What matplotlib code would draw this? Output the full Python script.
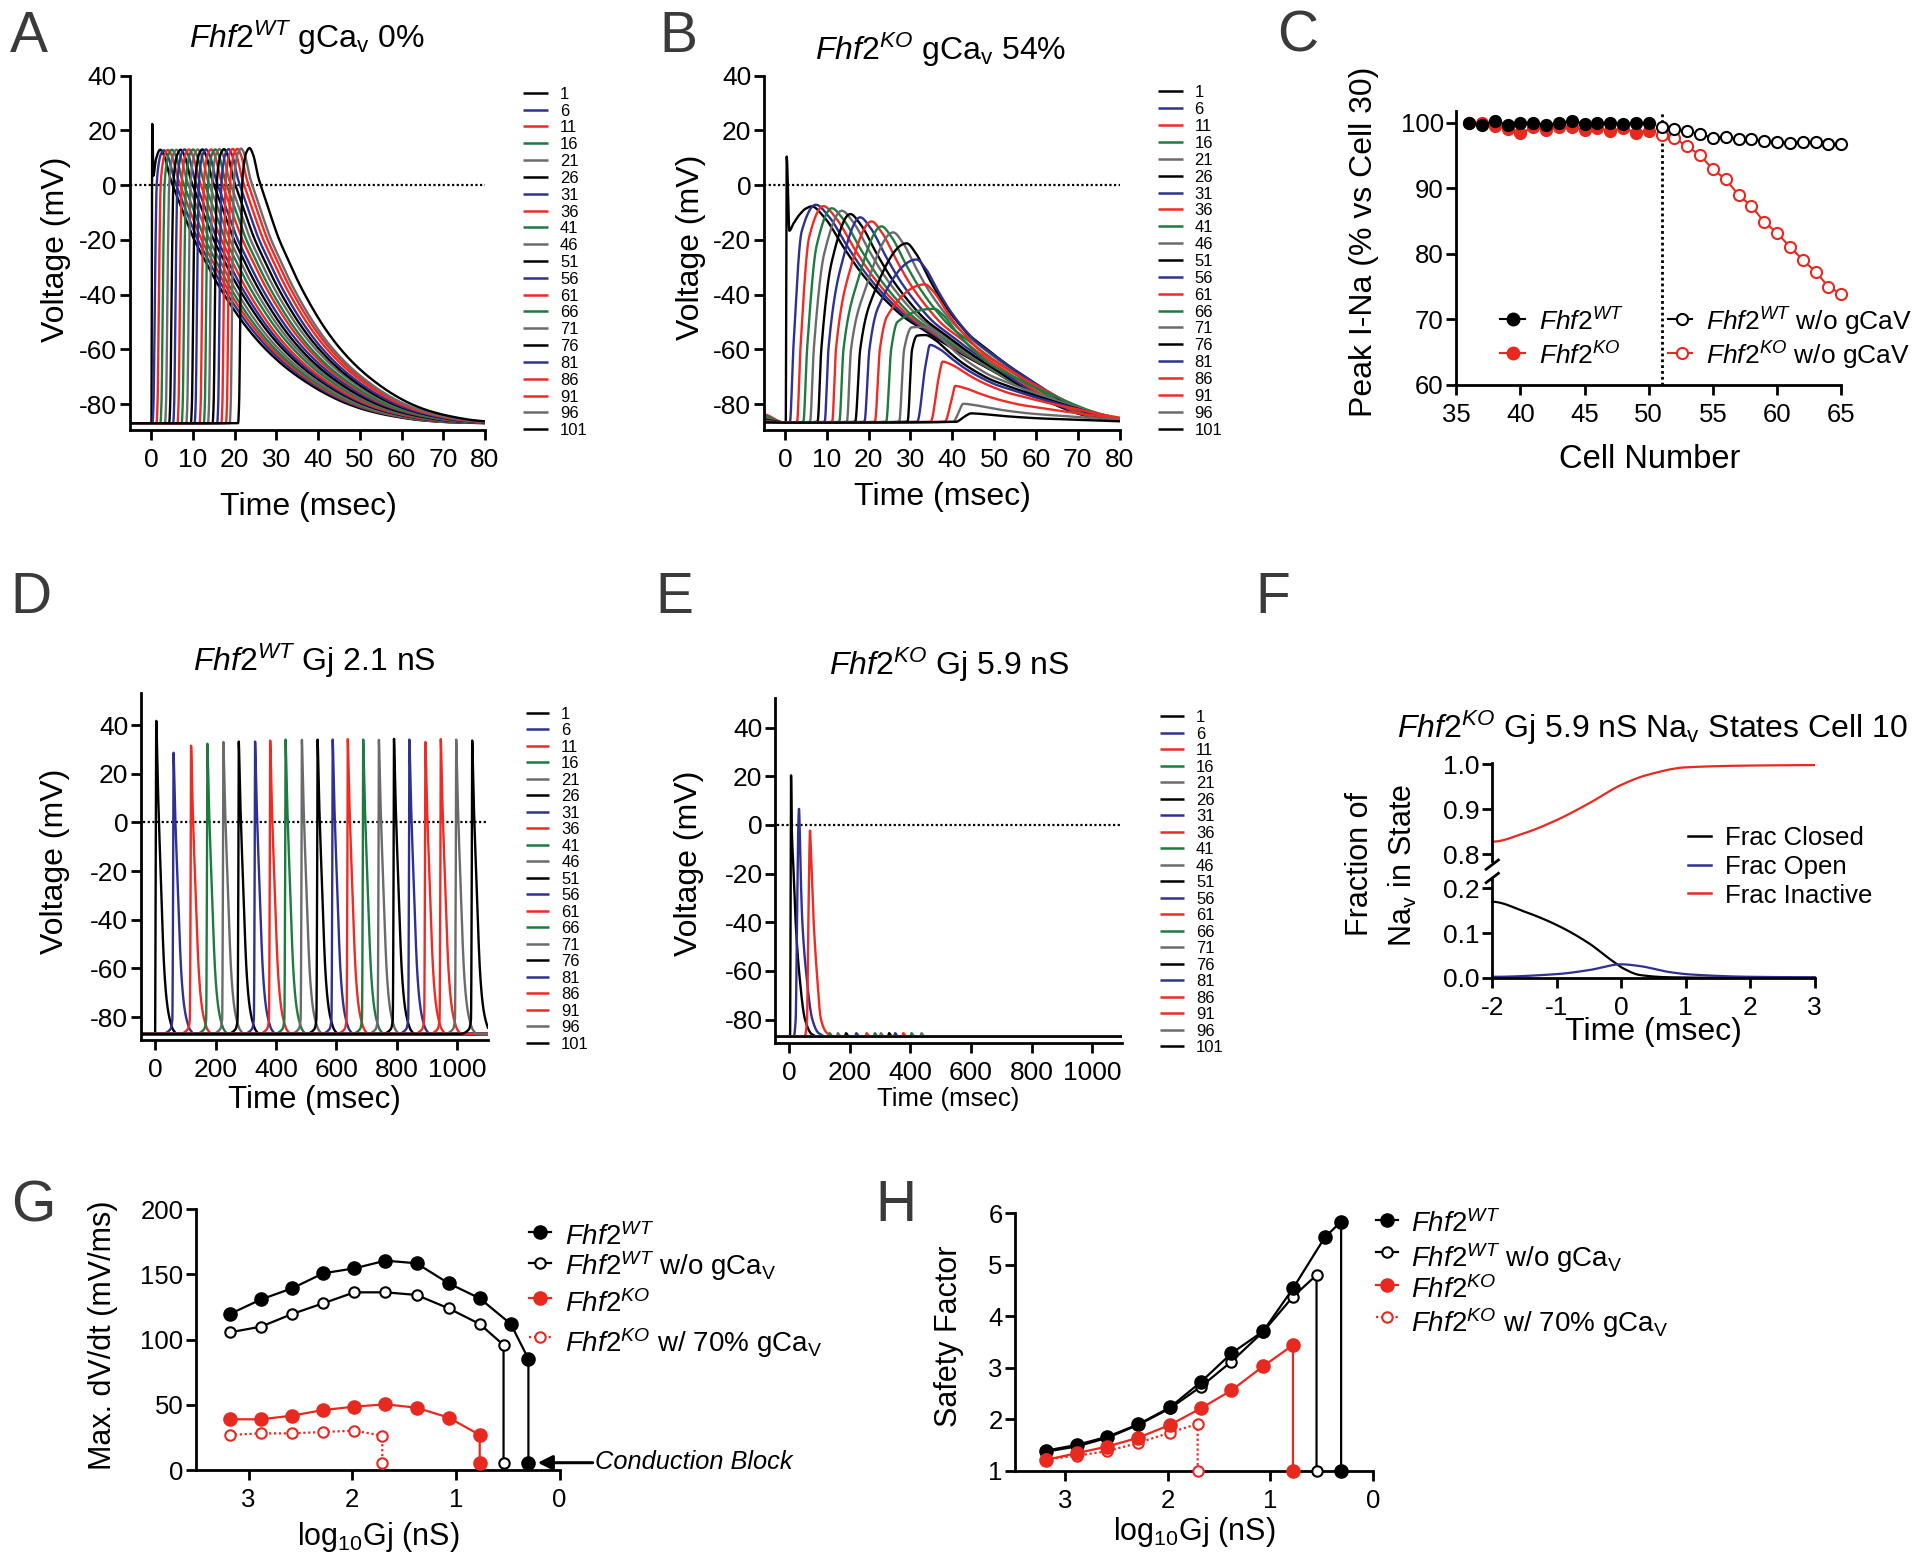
import numpy as np
import matplotlib
matplotlib.use("Agg")
import matplotlib.pyplot as plt
from matplotlib.lines import Line2D

plt.rcParams['font.family'] = ['Liberation Sans', 'DejaVu Sans']
plt.rcParams['mathtext.fontset'] = 'custom'
plt.rcParams['mathtext.rm'] = 'Liberation Sans'
plt.rcParams['mathtext.it'] = 'Liberation Sans:italic'
plt.rcParams['mathtext.bf'] = 'Liberation Sans:bold'
plt.rcParams['axes.unicode_minus'] = False

# ============================ DATA ============================
trace_cells = [1, 6, 11, 16, 21, 26, 31, 36, 41, 46, 51, 56, 61, 66, 71, 76, 81, 86, 91, 96, 101]
trace_color_names = ['black', 'blue', 'red', 'green', 'gray', 'black', 'blue', 'red', 'green', 'gray',
                     'black', 'blue', 'red', 'green', 'gray', 'black', 'blue', 'red', 'red', 'gray', 'black']
rest_mv = -87.0

# ---- Panel A: Fhf2 WT, gCav 0% (time of -60 mV crossing, peak, repolarisation time scale)
A_t60 = [0.2, 0.8, 1.76, 2.7, 3.8, 4.8, 5.75, 6.8, 7.8, 8.9, 10.0, 10.9, 12.1, 13.1, 14.1,
         15.2, 16.3, 17.3, 18.4, 19.3, 21.3]
A_peak = [12.9, 12.7, 12.8, 12.9, 12.9, 12.9, 13.0, 13.0, 13.0, 13.0, 13.0, 13.0, 13.0, 13.0,
          13.1, 13.1, 13.1, 13.2, 13.2, 13.3, 13.5]
A_dscale = [1.0, 1.0, 0.99, 0.98, 0.97, 0.97, 0.96, 0.95, 0.95, 0.94, 0.93, 0.93, 0.92, 0.91,
            0.91, 0.90, 0.89, 0.89, 0.88, 0.87, 0.86]
A_stim_t = [-6.0, 0.1, 0.3, 0.55, 1.2, 2.2]
A_stim_v = [-87.0, -87.0, 22.3, 3.4, 9.5, 12.9]
A_up_dt = [-0.45, -0.2, 0.0, 0.25, 0.55, 1.0, 1.5, 2.3]
A_up_frac = [0.0, 0.07, 0.27, 0.62, 0.87, 0.946, 0.983, 1.0]
A_dn_dt = [0, 1.0, 2.5, 4, 6, 8, 10.5, 13.5, 17, 21, 25, 30, 35, 40, 45, 50, 56, 63, 72, 85]
A_dn_frac = [1.0, 0.976, 0.891, 0.831, 0.751, 0.676, 0.601, 0.516, 0.430, 0.345, 0.275, 0.205,
             0.150, 0.105, 0.070, 0.045, 0.025, 0.010, 0.002, 0.0]

# ---- Panel B: Fhf2 KO, gCav 54%
B_v_start = [-86.0, -84.8, -83.6, -84.2, -85.0, -85.6, -86.0, -86.3, -86.5, -86.5, -86.6, -86.6,
             -86.6, -86.6, -86.6, -86.6, -86.6, -86.6, -86.6, -86.6, -86.6]
B_stim_t = [-5.5, 0.2, 0.42, 1.06, 2.0, 3.5, 5.0, 6.4]
B_stim_v = [-86.0, -86.8, 10.4, -16.7, -14.2, -10.8, -8.6, -7.8]
B_t_foot = [None, 1.2, 2.9, 4.4, 6.0, 7.8, 9.5, 11.3, 13.0, 14.8, 16.8, 19.0, 21.5, 24.2, 27.3,
            29.3, 31.6, 34.8, 38.2, 40.2, 40.8]
B_t60 = [None, 2.0, 3.7, 5.3, 6.9, 8.7, 10.4, 12.2, 14.0, 15.8, 18.0, 20.2, 22.7, 25.4, 28.5,
         30.4, None, None, None, None, None]
B_t_knee = [None, 4.0, 5.8, 7.6, 9.4, 11.2, 13.2, 15.2, 17.2, 19.0, 20.4, 22.2, 24.4, 26.9, 30.3,
            31.6, 33.6, 36.8, 39.9, 41.8, 43.0]
B_v_knee = [None, -17, -19, -22, -25, -28, -31, -33, -36, -39, -43, -45, -48, -50, -52, -55,
            -66, -70, -78, -82, -84.5]
B_t_peak = [6.4, 7.4, 9.2, 11.2, 13.6, 15.6, 18.0, 20.7, 23.1, 25.9, 29.1, 31.5, 33.5, 35.7,
            33.5, 33.6, 34.7, 37.7, 40.7, 42.6, 44.5]
B_v_peak = [-7.8, -7.2, -7.7, -8.5, -9.4, -10.6, -11.8, -13.3, -15.1, -17.3, -21.3, -27.2, -36.3,
            -45.2, -51.8, -54.8, -58.4, -64.5, -73.4, -79.9, -83.4]
B_dscale = [1.0, 0.98, 0.94, 0.90, 0.86, 0.83, 0.80, 0.77, 0.75, 0.72, 0.68, 0.66, 0.66, 0.66,
            0.72, 0.72, 0.72, 0.72, 0.72, 0.75, 0.75]
B_dn_dt = [0, 3, 7.8, 12, 17.5, 22, 27.3, 32, 37.1, 42, 46.8, 52, 56.6, 62, 66.3, 73.6, 82, 95]
B_dn_frac = [1.0, 0.95, 0.806, 0.69, 0.57, 0.49, 0.424, 0.365, 0.306, 0.255, 0.202, 0.15, 0.108,
             0.068, 0.043, 0.019, 0.006, 0.0]

# ---- Panel C: peak I-Na (% vs cell 30)
C_cells_with = list(range(36, 51))
C_WT = [100.0, 99.7, 100.3, 99.7, 100.0, 100.0, 99.7, 100.0, 100.3, 99.9, 100.0, 100.0, 99.9, 100.0, 100.0]
C_KO = [100.0, 100.0, 99.5, 99.1, 98.4, 99.3, 98.9, 99.3, 99.4, 98.9, 99.2, 98.8, 99.2, 98.5, 98.8]
C_cells_without = list(range(51, 66))
C_WT_noCa = [99.3, 99.05, 98.7, 98.3, 97.7, 97.9, 97.5, 97.5, 97.2, 97.1, 96.9, 97.1, 97.1, 96.8, 96.8]
C_KO_noCa = [98.2, 97.7, 96.4, 95.1, 92.9, 91.4, 89.0, 87.3, 84.9, 83.2, 81.1, 79.1, 77.3, 75.0, 73.9]
C_split_cell = 51

# ---- Panel D: Fhf2 WT, Gj 2.1 nS (spike peak time and voltage)
D_t_peak = [4, 61, 119, 173, 226, 277, 331, 381, 432, 486, 538, 588, 638, 689, 741, 791, 842,
            895, 946, 997, 1050]
D_v_peak = [41.7, 28.6, 31.5, 32.3, 33.0, 33.2, 33.2, 33.6, 34.0, 33.9, 34.0, 34.0, 34.2, 34.0,
            33.9, 34.3, 34.0, 33.0, 34.2, 34.0, 33.6]
D_stim_t = [-50.0, 0.0, 1.5, 4.0]
D_stim_v = [-87.0, -87.0, -20.0, 41.7]
D_up_dt = [-40, -12, -4, -1.5, 0]
D_up_frac = [0.0, 0.015, 0.05, 0.5, 1.0]
D_dn_dt = [0, 2, 5, 8, 12, 16, 20, 24, 28, 33, 38, 45, 55, 70]
D_dn_frac = [1, 0.93, 0.8, 0.7, 0.58, 0.46, 0.35, 0.25, 0.18, 0.12, 0.08, 0.045, 0.015, 0]

# ---- Panel E: Fhf2 KO, Gj 5.9 nS
E1_t = [-50, 3.5, 5.0, 6.6, 8.8, 15.4, 22, 33, 52.8, 75, 95]
E1_v = [-87, -87, -40, 20.6, 0, -20, -40, -60, -80, -86, -87]
E6_t = [-50, 16, 22, 26.4, 30.8, 33, 35, 38.5, 44, 56, 77, 97, 125]
E6_v = [-87, -86.8, -80, -40, 0, 6.6, 0, -20, -40, -60, -80, -85.5, -87]
E11_t = [-50, 52, 59.4, 63.8, 67.5, 69.3, 71.5, 74.8, 81.4, 91.3, 105.5, 125, 150]
E11_v = [-87, -86.8, -80, -40, -10, -2.3, -8, -20, -40, -60, -80, -85.5, -87]
E_bump_t = [None, None, None, 134, 161, 188, 222, 256, 283, 303, 330, 350, 377, 404, 437,
            None, None, None, None, None, None]
E_bump_v = -85.6

# ---- Panel F: Nav states, cell 10
F_t_inact = [-2, -1.5, -1, -0.5, 0, 0.4, 1, 2, 3]
F_inact = [0.828, 0.847, 0.876, 0.913, 0.954, 0.976, 0.993, 0.997, 0.998]
F_t_closed = [-2, -1.5, -1, -0.5, -0.16, 0.03, 0.29, 0.73, 1.5, 3]
F_closed = [0.170, 0.148, 0.118, 0.077, 0.040, 0.021, 0.006, 0.001, 0.0, 0.0]
F_t_open = [-2, -1, -0.5, 0, 0.29, 0.73, 1.05, 2, 3]
F_open = [0.002, 0.008, 0.017, 0.030, 0.026, 0.013, 0.0075, 0.002, 0.001]

# ---- Panel G: max dV/dt vs log10 Gj
G_x_WT = [3.18, 2.88, 2.58, 2.28, 1.98, 1.68, 1.38, 1.07, 0.77, 0.47, 0.30, 0.30]
G_WT = [119.7, 130.9, 139.4, 150.9, 154.7, 160.6, 158.6, 143.2, 131.7, 112.0, 85.2, 5.1]
G_x_WT_noCa = [3.18, 2.88, 2.58, 2.28, 1.98, 1.68, 1.38, 1.07, 0.77, 0.54, 0.54]
G_WT_noCa = [105.6, 110.0, 119.7, 127.9, 136.3, 136.3, 134.3, 124.0, 112.0, 95.9, 5.1]
G_x_KO = [3.18, 2.88, 2.58, 2.28, 1.98, 1.68, 1.38, 1.07, 0.77, 0.77]
G_KO = [38.9, 38.9, 41.7, 46.0, 48.6, 50.4, 47.8, 40.2, 26.9, 5.1]
G_x_KO70 = [3.18, 2.88, 2.58, 2.28, 1.98, 1.71, 1.71]
G_KO70 = [26.9, 28.1, 28.1, 29.2, 30.2, 26.3, 5.1]

# ---- Panel H: safety factor vs log10 Gj
H_x_WT = [3.19, 2.89, 2.59, 2.29, 1.98, 1.68, 1.38, 1.07, 0.78, 0.47, 0.31, 0.31]
H_WT = [1.39, 1.50, 1.66, 1.90, 2.23, 2.72, 3.28, 3.71, 4.54, 5.53, 5.84, 1.0]
H_x_WT_noCa = [3.19, 2.89, 2.59, 2.29, 1.98, 1.68, 1.38, 1.07, 0.78, 0.55, 0.55]
H_WT_noCa = [1.37, 1.47, 1.64, 1.89, 2.21, 2.63, 3.12, 3.70, 4.38, 4.80, 1.0]
H_x_KO = [3.19, 2.89, 2.59, 2.29, 1.98, 1.68, 1.38, 1.07, 0.78, 0.78]
H_KO = [1.21, 1.34, 1.47, 1.64, 1.89, 2.21, 2.56, 3.03, 3.44, 1.0]
H_x_KO70 = [3.19, 2.89, 2.59, 2.29, 1.98, 1.71, 1.71]
H_KO70 = [1.22, 1.29, 1.38, 1.54, 1.74, 1.91, 1.0]

# ============================ STYLE / LAYOUT ============================
W, H = 1920, 1568
PALETTE = {'black': '#000000', 'blue': '#2e3192', 'red': '#ee2b24', 'green': '#1e7b40', 'gray': '#6b6b6b'}
RED = '#e8291f'
LETTER_COLOR = '#3a3a3a'
TICK_FS = 19
LW_SPINE = 2.0
LW_TRACE = 1.7

fig = plt.figure(figsize=(W / 100, H / 100), dpi=100)
fig.patch.set_facecolor('white')


def axes_px(x0, y0, x1, y1):
    return fig.add_axes([x0 / W, 1 - y1 / H, (x1 - x0) / W, (y1 - y0) / H])


def ftext(x, y, s, **kw):
    return fig.text(x / W, 1 - y / H, s, **kw)


def fseg(xs, ys, **kw):
    fig.add_artist(Line2D([x / W for x in xs], [1 - y / H for y in ys],
                          transform=fig.transFigure, **kw))


def fmark(x, y, **kw):
    fig.add_artist(Line2D([x / W], [1 - y / H], transform=fig.transFigure, ls='none', **kw))


def style_axes(ax, xlim, ylim, xticks, yticks, fs=TICK_FS, xpad=5.5, ypad=1.5,
               spines=('left', 'bottom')):
    ax.set_xlim(*xlim)
    ax.set_ylim(*ylim)
    for s in ['top', 'right', 'left', 'bottom']:
        ax.spines[s].set_visible(s in spines)
        ax.spines[s].set_linewidth(LW_SPINE)
    ax.set_xticks(xticks)
    ax.set_yticks(yticks)
    ax.tick_params(direction='out', length=7.5, width=LW_SPINE, labelsize=fs)
    ax.tick_params(axis='x', pad=xpad)
    ax.tick_params(axis='y', pad=ypad)
    ax.patch.set_visible(False)


def pchip(xk, yk, x):
    xk = np.asarray(xk, float)
    yk = np.asarray(yk, float)
    h = np.diff(xk)
    d = np.diff(yk) / h
    m = np.zeros_like(yk)
    for k in range(1, len(xk) - 1):
        if d[k - 1] * d[k] > 0:
            w1 = 2 * h[k] + h[k - 1]
            w2 = h[k] + 2 * h[k - 1]
            m[k] = (w1 + w2) / (w1 / d[k - 1] + w2 / d[k])
    idx = np.clip(np.searchsorted(xk, x, side='right') - 1, 0, len(h) - 1)
    s = np.clip((x - xk[idx]) / h[idx], 0, 1)
    h00 = 2 * s ** 3 - 3 * s ** 2 + 1
    h10 = s ** 3 - 2 * s ** 2 + s
    h01 = -2 * s ** 3 + 3 * s ** 2
    h11 = s ** 3 - s ** 2
    return h00 * yk[idx] + h10 * h[idx] * m[idx] + h01 * yk[idx + 1] + h11 * h[idx] * m[idx + 1]


def add_decay(kt, kv, dts, fracs, scale, t_end, t_final):
    tp, vp = kt[-1], kv[-1]
    amp = vp - rest_mv
    kt = kt + [tp + scale * d for d in dts[1:]]
    kv = kv + [rest_mv + amp * f for f in fracs[1:]]
    if kt[-1] < t_end:
        kt.append(t_final)
        kv.append(rest_mv)
    return kt, kv


def trace_legend(x0, x1, xt, y0, dy, fs=12):
    for i, (c, cn) in enumerate(zip(trace_cells, trace_color_names)):
        y = y0 + dy * i
        fseg([x0, x1], [y, y], color=PALETTE[cn], lw=1.8, solid_capstyle='butt')
        ftext(xt, y + 6, str(c), fontsize=fs, ha='left', va='baseline')


def zero_line(ax, x0, x1):
    ax.plot([x0, x1], [0, 0], color='k', lw=1.6, ls=(0, (1, 1.1)), zorder=1)


def letter(x, y, s):
    ftext(x, y, s, fontsize=41, color=LETTER_COLOR, ha='center', va='baseline')


def title(x, y, s, fs=23):
    ftext(x, y, s, fontsize=fs, ha='center', va='baseline')


def ylab(x, y, s, fs=23):
    ftext(x, y, s, fontsize=fs, ha='center', va='center', rotation=90)


WT = r'$\mathit{Fhf2}^{\mathit{WT}}$'
KO = r'$\mathit{Fhf2}^{\mathit{KO}}$'

# ============================ PANEL A ============================
tA = np.arange(-6.0, 81.0, 0.02)
axA = axes_px(129.5, 75.5, 485, 429.8)
style_axes(axA, (-5.15, 80), (-89.4, 40), np.arange(0, 81, 10), np.arange(-80, 41, 20))
zero_line(axA, -5, 80)
for i in range(len(trace_cells)):
    if i == 0:
        kt, kv = list(A_stim_t), list(A_stim_v)
    else:
        amp = A_peak[i] - rest_mv
        kt = [-6.0] + [A_t60[i] + d for d in A_up_dt]
        kv = [rest_mv] + [rest_mv + amp * f for f in A_up_frac]
    kt, kv = add_decay(kt, kv, A_dn_dt, A_dn_frac, A_dscale[i], 82, 200)
    axA.plot(tA, pchip(kt, kv, tA), color=PALETTE[trace_color_names[i]], lw=LW_TRACE, zorder=2)
letter(28.6, 51.5, 'A')
title(307, 48.2, WT + r' gCa$_\mathrm{v}$ 0%')
ylab(56, 249.7, 'Voltage (mV)')
ftext(308.2, 514.8, 'Time (msec)', fontsize=23, ha='center', va='baseline')
trace_legend(523.3, 548.3, 560, 92.7, 16.83)

# ============================ PANEL B ============================
axB = axes_px(763.7, 75.5, 1119.6, 429.8)
style_axes(axB, (-5.07, 80), (-89.4, 40), np.arange(0, 81, 10), np.arange(-80, 41, 20))
zero_line(axB, -5, 80)
for i in range(len(trace_cells)):
    if i == 0:
        kt, kv = list(B_stim_t), list(B_stim_v)
    else:
        kt = [-5.5, 0.0, B_t_foot[i]]
        kv = [B_v_start[i], -86.8, -86.5]
        if B_t60[i] is not None:
            kt.append(B_t60[i])
            kv.append(-60.0)
        kt += [B_t_knee[i], B_t_peak[i]]
        kv += [B_v_knee[i], B_v_peak[i]]
    kt, kv = add_decay(kt, kv, B_dn_dt, B_dn_frac, B_dscale[i], 82, 200)
    axB.plot(tA, pchip(kt, kv, tA), color=PALETTE[trace_color_names[i]], lw=LW_TRACE, zorder=2)
letter(678.8, 51.5, 'B')
title(941, 60.3, KO + r' gCa$_\mathrm{v}$ 54%')
ylab(691, 247, 'Voltage (mV)')
ftext(942, 504.5, 'Time (msec)', fontsize=23, ha='center', va='baseline')
trace_legend(1158.4, 1182.9, 1194.3, 91.3, 16.87)

# ============================ PANEL C ============================
axC = axes_px(1456.3, 111.1, 1841.2, 385)
style_axes(axC, (35, 65), (60, 101.8), np.arange(35, 66, 5), np.arange(60, 101, 10), fs=18.5)
axC.plot([C_split_cell, C_split_cell], [60, 101.7], color='k', lw=2, ls=(0, (1, 1.1)), zorder=1)
axC.plot(C_cells_with, C_KO, '-o', color=RED, lw=1.5, ms=8.5, clip_on=False, zorder=3)
axC.plot(C_cells_with, C_WT, '-o', color='k', lw=1.5, ms=8.5, clip_on=False, zorder=4)
axC.plot(C_cells_without, C_KO_noCa, '-o', color=RED, lw=1.5, ms=8, mfc='white', mew=1.5,
         clip_on=False, zorder=3)
axC.plot(C_cells_without, C_WT_noCa, '-o', color='k', lw=1.5, ms=8, mfc='white', mew=1.5,
         clip_on=False, zorder=4)
letter(1298, 51.5, 'C')
ylab(1363.7, 241.9, 'Peak I-Na (% vs Cell 30)')
ftext(1649.4, 468.3, 'Cell Number', fontsize=23.5, ha='center', va='baseline')
for (xm, x0, x1, xt, y, yb, col, filled, lab) in [
        (1512.7, 1500.4, 1524.9, 1539.2, 318.5, 330.6, 'k', True, WT),
        (1512.7, 1500.4, 1524.9, 1539.2, 353.0, 365.0, RED, True, KO),
        (1682.0, 1667.8, 1692.2, 1706.5, 318.5, 330.6, 'k', False, WT + ' w/o gCaV'),
        (1682.0, 1667.8, 1692.2, 1706.5, 353.0, 365.0, RED, False, KO + ' w/o gCaV')]:
    fseg([x0, x1], [y, y], color=col, lw=1.5)
    fmark(xm, y, marker='o', ms=8.5 if filled else 8, mfc=col if filled else 'white', mec=col,
          mew=1.5)
    ftext(xt, yb, lab, fontsize=19, ha='left', va='baseline')

# ============================ PANEL D ============================
tD = np.arange(-50.0, 1110.0, 0.25)
axD = axes_px(140.8, 692.9, 487.8, 1040.4)
style_axes(axD, (-47.4, 1101.7), (-89.6, 53.2), np.arange(0, 1001, 200), np.arange(-80, 41, 20))
zero_line(axD, -40, 1101)
for i in range(len(trace_cells)):
    if i == 0:
        kt, kv = list(D_stim_t), list(D_stim_v)
    else:
        amp = D_v_peak[i] - rest_mv
        kt = [-50.0] + [D_t_peak[i] + d for d in D_up_dt]
        kv = [rest_mv] + [rest_mv + amp * f for f in D_up_frac]
    kt, kv = add_decay(kt, kv, D_dn_dt, D_dn_frac, 1.0, 1105, 1110)
    axD.plot(tD, pchip(kt, kv, tD), color=PALETTE[trace_color_names[i]], lw=LW_TRACE, zorder=2)
letter(30.6, 613, 'D')
title(314.3, 670.7, WT + ' Gj 2.1 nS')
ylab(55.1, 861.8, 'Voltage (mV)')
ftext(314.3, 1108.2, 'Time (msec)', fontsize=22.5, ha='center', va='baseline')
trace_legend(525.7, 549, 561.2, 712.9, 16.5)

# ============================ PANEL E ============================
axE = axes_px(775, 697.5, 1121.6, 1042.9)
style_axes(axE, (-46.2, 1097), (-89.6, 52.4), np.arange(0, 1001, 200), np.arange(-80, 41, 20))
zero_line(axE, -40, 1097)
E_spikes = {0: (E1_t, E1_v), 1: (E6_t, E6_v), 2: (E11_t, E11_v)}
for i in range(len(trace_cells)):
    if i in E_spikes:
        kt, kv = list(E_spikes[i][0]) + [1110], list(E_spikes[i][1]) + [rest_mv]
    elif E_bump_t[i] is not None:
        tb = E_bump_t[i]
        kt = [-50, tb - 4, tb, tb + 6, tb + 18, 1110]
        kv = [rest_mv, rest_mv, E_bump_v, -86.6, rest_mv, rest_mv]
    else:
        kt, kv = [-50, 1110], [rest_mv, rest_mv]
    axE.plot(tD, pchip(kt, kv, tD), color=PALETTE[trace_color_names[i]], lw=LW_TRACE, zorder=2)
letter(674.7, 613, 'E')
title(949.2, 675, KO + ' Gj 5.9 nS')
ylab(689, 863.6, 'Voltage (mV)')
ftext(948.2, 1106.4, 'Time (msec)', fontsize=18.5, ha='center', va='baseline')
trace_legend(1160.4, 1183.7, 1195.9, 716.4, 16.5)

# ============================ PANEL F ============================
tF = np.linspace(-2, 3, 600)
axFt = axes_px(1492.2, 763.3, 1814.7, 860.6)
style_axes(axFt, (-2, 3), (0.786, 1.002), [], [0.8, 0.9, 1.0], spines=('left',))
axFt.set_yticklabels(['0.8', '0.9', '1.0'])
axFt.tick_params(axis='x', length=0)
axFt.plot(tF, pchip(F_t_inact, F_inact, tF), color=RED, lw=1.6)
axFb = axes_px(1492.2, 879.0, 1814.7, 977.7)
style_axes(axFb, (-2, 3), (0.0, 0.221), [-2, -1, 0, 1, 2, 3], [0.0, 0.1, 0.2])
axFb.set_yticklabels(['0.0', '0.1', '0.2'])
axFb.plot(tF, pchip(F_t_closed, F_closed, tF), color='k', lw=1.6, clip_on=False)
axFb.plot(tF, pchip(F_t_open, F_open, tF), color=PALETTE['blue'], lw=1.6, clip_on=False)
fseg([1486.1, 1498.4], [869.3, 860.0], color='k', lw=2)
fseg([1486.1, 1498.4], [882.7, 873.3], color='k', lw=2)
letter(1273, 613, 'F')
title(1652.4, 738.3, KO + r' Gj 5.9 nS Na$_\mathrm{v}$ States Cell 10')
ylab(1359.6, 864, 'Fraction of', fs=22)
ylab(1402.9, 865.8, r'Na$_\mathrm{v}$ in State', fs=22)
ftext(1653.5, 1040, 'Time (msec)', fontsize=23, ha='center', va='baseline')
for (y, yb, col, lab) in [(836, 845, 'k', 'Frac Closed'), (865, 874, PALETTE['blue'], 'Frac Open'),
                          (893.3, 902.7, RED, 'Frac Inactive')]:
    fseg([1688.2, 1710.6], [y, y], color=col, lw=1.8)
    ftext(1724.9, yb, lab, fontsize=18.5, ha='left', va='baseline')


# ============================ PANELS G / H ============================
def gh_series(ax, xs, ys, col, filled, dotted):
    ax.plot(xs, ys, color=col, lw=1.6, ls=(0, (1, 1.2)) if dotted else '-', marker='o',
            ms=9 if filled else 7.5, mfc=col if filled else 'white', mec=col,
            mew=1.5, clip_on=False, zorder=3)


def gh_legend(xm, x0, x1, xt, ys, ybs, fs):
    specs = [('k', True, False, WT), ('k', False, False, WT + r' w/o gCa$_\mathrm{V}$'),
             (RED, True, False, KO), (RED, False, True, KO + r' w/ 70% gCa$_\mathrm{V}$')]
    for (col, filled, dotted, lab), y, yb in zip(specs, ys, ybs):
        fseg([x0, x1], [y, y], color=col, lw=1.6, ls=(0, (1, 1.2)) if dotted else '-')
        fmark(xm, y, marker='o', ms=9 if filled else 7.5, mfc=col if filled else 'white',
              mec=col, mew=1.5)
        ftext(xt, yb, lab, fontsize=fs, ha='left', va='baseline')


axG = axes_px(195.8, 1209.3, 559.5, 1470)
style_axes(axG, (3.51, 0), (0, 200), [3, 2, 1, 0], np.arange(0, 201, 50), fs=18.5)
gh_series(axG, G_x_WT_noCa, G_WT_noCa, 'k', False, False)
gh_series(axG, G_x_WT, G_WT, 'k', True, False)
gh_series(axG, G_x_KO70, G_KO70, RED, False, True)
gh_series(axG, G_x_KO, G_KO, RED, True, False)
axG.annotate('', xy=(0.21, 5.6), xytext=(-0.32, 5.6), xycoords='data', textcoords='data',
             arrowprops=dict(arrowstyle='-|>', color='k', lw=2.2, mutation_scale=22,
                             shrinkA=0, shrinkB=0), annotation_clip=False)
ftext(595.2, 1469, 'Conduction Block', fontsize=18.3, fontstyle='italic', ha='left', va='baseline')
letter(32.9, 1221, 'G')
ylab(102.9, 1335, 'Max. dV/dt (mV/ms)', fs=22)
ftext(378.5, 1545, r'log$_{10}$Gj (nS)', fontsize=22, ha='center', va='baseline')
gh_legend(540.3, 529.4, 551.3, 565, [1231.7, 1263.3, 1297.7, 1336.7], [1245, 1275, 1311.7, 1351.7], 20)

axH = axes_px(1015.2, 1213.3, 1372.9, 1470.7)
style_axes(axH, (3.49, 0), (1, 6), [3, 2, 1, 0], np.arange(1, 7, 1), fs=18.5)
gh_series(axH, H_x_WT_noCa, H_WT_noCa, 'k', False, False)
gh_series(axH, H_x_WT, H_WT, 'k', True, False)
gh_series(axH, H_x_KO70, H_KO70, RED, False, True)
gh_series(axH, H_x_KO, H_KO, RED, True, False)
letter(895.7, 1221, 'H')
ylab(949.1, 1336.7, 'Safety Factor', fs=22)
ftext(1194.6, 1540, r'log$_{10}$Gj (nS)', fontsize=22, ha='center', va='baseline')
gh_legend(1386.6, 1375.6, 1397.6, 1411.3, [1220, 1251.7, 1285, 1316.7], [1231.7, 1266.7, 1298.3, 1331.7], 20)

fig.savefig('out.png', dpi=100, facecolor='white')
